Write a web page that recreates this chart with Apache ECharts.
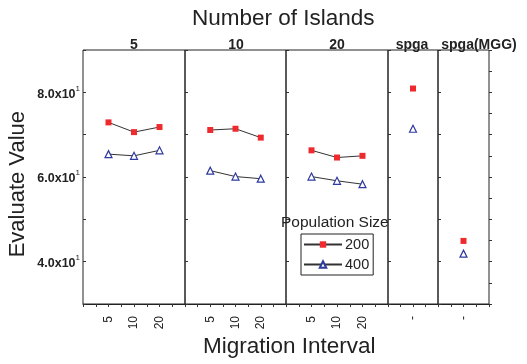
<!DOCTYPE html>
<html>
<head>
<meta charset="utf-8">
<script src="https://cdn.jsdelivr.net/npm/echarts@6/dist/echarts.min.js"></script>
<style>
  html, body { margin: 0; padding: 0; background: #fff; }
  #chart { width: 527px; height: 364px; }
</style>
</head>
<body>
<div id="chart"></div>
<script>
  // data
  const panelNames = ['5', '10', '20', 'spga', 'spga(MGG)']
  const intervals = ['5', '10', '20']
  const pop200 = [
    [72.9, 70.6, 71.8],
    [71.1, 71.4, 69.3],
    [66.3, 64.6, 65.0]
  ]
  const pop400 = [
    [65.4, 65.0, 66.3],
    [61.5, 60.1, 59.6],
    [60.1, 59.1, 58.3]
  ]
  const spga200 = [80.9, 44.9]
  const spga400 = [71.4, 41.9]
  const yTicks = [40, 60, 80]

  const font = 'Liberation Sans, Arial, sans-serif'
  const chart = echarts.init(document.getElementById('chart'))

  // panel layout (px)
  const panels = [
    { left: 83, width: 102 },
    { left: 185, width: 101 },
    { left: 286, width: 102 },
    { left: 388, width: 50 },
    { left: 438, width: 51 }
  ]
  const plotTop = 50, plotHeight = 254

  const grid = [], xAxis = [], yAxis = [], series = []
  panels.forEach((p, i) => {
    const multi = i < 3
    grid.push({ left: p.left, top: plotTop, width: p.width, height: plotHeight, show: true, borderColor: '#222', borderWidth: 1, backgroundColor: 'transparent' })
    xAxis.push({
      type: 'value', gridIndex: i, min: 0, max: multi ? 4 : 2, interval: 0.5,
      axisLine: { show: true, lineStyle: { color: '#222', width: 1 } },
      axisTick: { show: true, inside: false, length: 3, lineStyle: { color: '#333' } },
      splitLine: { show: false },
      axisLabel: {
        show: true, rotate: 90, margin: 12, fontSize: 12, color: '#222', fontFamily: font, hideOverlap: false,
        formatter: v => {
          if (multi) return (v === 1 || v === 2 || v === 3) ? intervals[v - 1] : ''
          return v === 1 ? '-' : ''
        }
      }
    })
    yAxis.push({
      type: 'value', gridIndex: i, min: 30, max: 90, interval: 10,
      axisLine: { show: false },
      axisTick: { show: true, inside: true, length: 3, lineStyle: { color: '#333' } },
      splitLine: { show: false },
      axisLabel: {
        show: i === 0, margin: 3, fontFamily: font, color: '#222',
        formatter: v => yTicks.indexOf(v) >= 0 ? '{a|' + (v / 10).toFixed(1) + 'x10}{b|1}' : '',
        rich: {
          a: { fontSize: 12.5, fontWeight: 'bold', color: '#222', fontFamily: font, padding: [4, 0, 0, 0] },
          b: { fontSize: 8, color: '#222', fontFamily: font, padding: [0, 0, 8, 0] }
        }
      }
    })
    const red = multi ? pop200[i].map((v, k) => [k + 1, v]) : [[1, spga200[i - 3]]]
    const blue = multi ? pop400[i].map((v, k) => [k + 1, v]) : [[1, spga400[i - 3]]]
    series.push({
      name: '200', type: 'line', xAxisIndex: i, yAxisIndex: i, data: red,
      symbol: 'rect', symbolSize: 6,
      itemStyle: { color: '#ee2a2f' },
      lineStyle: { color: '#333', width: 1 }
    })
    series.push({
      name: '400', type: 'line', xAxisIndex: i, yAxisIndex: i, data: blue,
      symbol: 'triangle', symbolSize: 7,
      itemStyle: { color: '#fff', borderColor: '#2d3a9e', borderWidth: 1.2 },
      lineStyle: { color: '#333', width: 1 }
    })
  })

  // extra right axis with finer ticks
  yAxis.push({
    type: 'value', gridIndex: 4, position: 'right', min: 30, max: 90, interval: 5,
    axisLine: { show: false },
    axisTick: { show: true, inside: false, length: 3, lineStyle: { color: '#333' } },
    splitLine: { show: false },
    axisLabel: { show: false }
  })

  const headerX = [134, 236, 337, 412, 479]

  chart.setOption({
    backgroundColor: '#fff',
    animation: false,
    grid: grid,
    xAxis: xAxis,
    yAxis: yAxis,
    legend: {
      orient: 'vertical',
      left: 301, top: 234,
      data: ['200', '400'],
      itemWidth: 38, itemHeight: 8, itemGap: 5,
      padding: [3, 4, 3, 2],
      borderColor: '#222', borderWidth: 1, borderRadius: 0,
      textStyle: { fontSize: 14.5, color: '#222', fontFamily: font, padding: [0, 0, 0, -2] }
    },
    graphic: [
      { type: 'text', left: 192, top: 7, style: { text: 'Number of Islands', fontSize: 22.5, fontFamily: font, fill: '#222' } },
      { type: 'text', left: 281, top: 215, style: { text: 'Population Size', fontSize: 15.5, fontFamily: font, fill: '#222' } },
      { type: 'text', left: 203, top: 335, style: { text: 'Migration Interval', fontSize: 22.5, fontFamily: font, fill: '#222' } },
      { type: 'text', left: 7, top: 111, rotation: Math.PI / 2, style: { text: 'Evaluate Value', fontSize: 22, fontFamily: font, fill: '#222' } }
    ].concat(panelNames.map((n, i) => ({
      type: 'text', x: headerX[i], y: 38,
      style: { text: n, fontSize: 14, fontWeight: 'bold', fontFamily: font, fill: '#222', textAlign: 'center' }
    }))),
    series: series
  })
</script>
</body>
</html>
